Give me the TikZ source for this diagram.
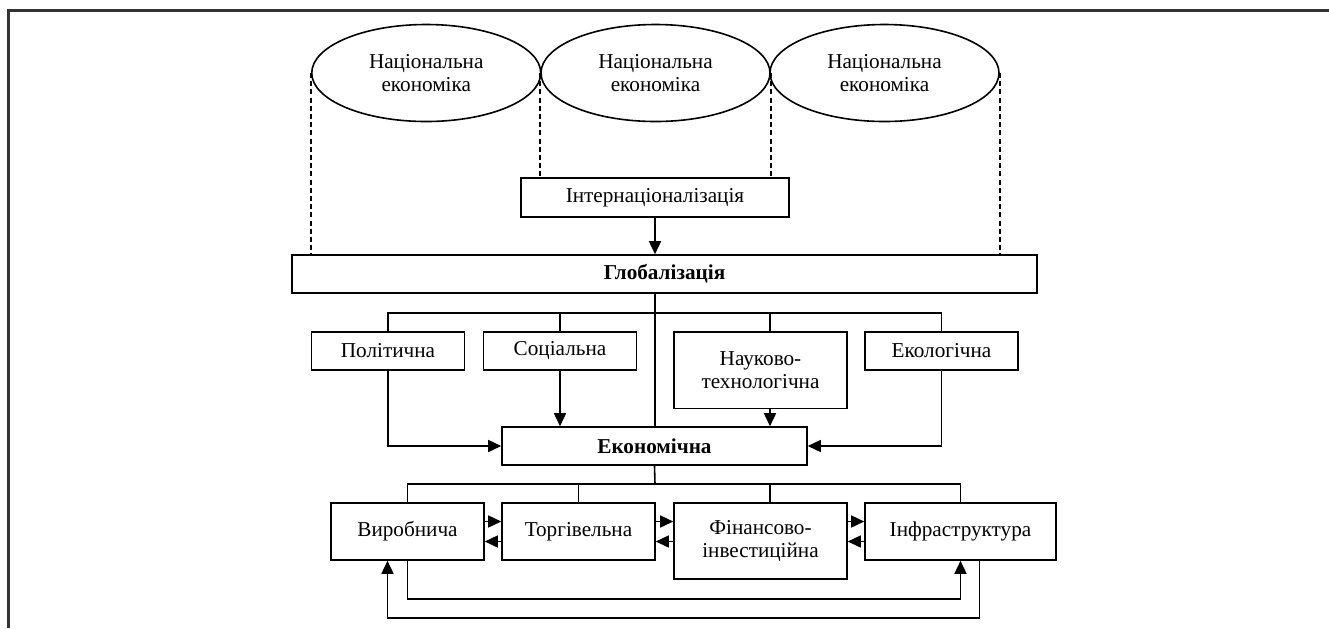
\documentclass[tikz,border=0pt]{standalone}
\usepackage{fontspec}
\setmainfont{Liberation Serif}
\usetikzlibrary{shapes.geometric,arrows.meta}
\begin{document}
\begin{tikzpicture}[x=0.5pt,y=-0.5pt,line width=0.8pt,
  font=\fontsize{10.6}{11.8}\selectfont,
  box/.style={draw, rectangle, inner sep=0pt, align=center},
  oval/.style={draw, ellipse, inner sep=0pt, minimum width=114.5pt, minimum height=48.5pt, align=center},
  arr/.style={-{Triangle[length=6.5pt,width=6pt]}},
  nlink/.style={dash pattern=on 2.5pt off 1.6pt},
  frameline/.style={line width=1.4pt, draw=black!80}]
\useasboundingbox (0,0) rectangle (1329,628);
\draw [frameline] (8.8,628) -- (8.8,10.5) -- (1329,10.5);
\node [oval] (ne1) at (426.25,73) {Національна\\економіка};
\node [oval] (ne2) at (655.5,73) {Національна\\економіка};
\node [oval] (ne3) at (884.5,73) {Національна\\економіка};
\node [box, minimum width=134pt, minimum height=19.5pt] (intern) at (655,197.5) {Інтернаціоналізація};
\node [box, minimum width=372.5pt, minimum height=19pt] (glob) at (664.5,274) {\textbf{Глобалізація}};
\node [box, minimum width=76.5pt, minimum height=19pt] (polit) at (388,351) {Політична};
\node [box, minimum width=76.5pt, minimum height=19pt] (soc) at (560,351) {Соціальна};
\node [box, minimum width=86.5pt, minimum height=38.3pt] (nauk) at (760.5,370) {Науково-\\технологічна};
\node [box, minimum width=76.5pt, minimum height=19pt] (ekol) at (941.5,351) {Екологічна};
\node [box, minimum width=152.5pt, minimum height=19pt] (econ) at (654.5,446) {\textbf{Економічна}};
\node [box, minimum width=76.5pt, minimum height=28.5pt] (vyr) at (407.5,531.5) {Виробнича};
\node [box, minimum width=76.5pt, minimum height=28.5pt] (torg) at (578.5,531.5) {Торгівельна};
\node [box, minimum width=86.5pt, minimum height=38pt] (fin) at (760.5,541) {Фінансово-\\інвестиційна};
\node [box, minimum width=95.5pt, minimum height=28.5pt] (infra) at (960.5,531.5) {Інфраструктура};
\coordinate (bus1) at (655,313);
\coordinate (bus2) at (655,484);
\coordinate (nk) at (770,313);
\draw [nlink] (ne1.west) -- (ne1.west |- glob.north);
\draw [nlink] (ne2.west) -- (ne2.west |- intern.north);
\draw [nlink] (ne2.east) -- (ne2.east |- intern.north);
\draw [nlink] (ne3.east) -- (ne3.east |- glob.north);
\draw [arr] (intern.south) -- (intern.south |- glob.north);
\draw (intern.south |- glob.south) -- (intern.south |- econ.north);
\draw (polit.north) |- (bus1) -| (ekol.north);
\draw (soc.north) -- (soc.north |- bus1);
\draw (nk) -- (nk |- nauk.north);
\draw [arr] (polit.south) |- (econ.west);
\draw [arr] (soc.south) -- (soc.south |- econ.north);
\draw [arr] (nk |- nauk.south) -- (nk |- econ.north);
\draw [arr] (ekol.south) |- (econ.east);
\draw (econ.south) -- (bus2);
\draw (vyr.north) |- (bus2) -| (infra.north);
\draw (torg.north) -- (torg.north |- bus2);
\draw (nk |- fin.north) -- (nk |- bus2);
\foreach \a/\b in {vyr/torg, torg/fin, fin/infra} {
  \draw [arr] ([yshift=5pt]vyr.east -| \a.east) -- ([yshift=5pt]vyr.east -| \b.west);
  \draw [arr] ([yshift=-5pt]vyr.east -| \b.west) -- ([yshift=-5pt]vyr.east -| \a.east);
}
\draw [arr] (vyr.south) -- ++(0,38) -| (infra.south);
\draw [arr] ([xshift=9.5pt]infra.south) -- ++(0,57) -| ([xshift=-10pt]vyr.south);
\end{tikzpicture}
\end{document}
